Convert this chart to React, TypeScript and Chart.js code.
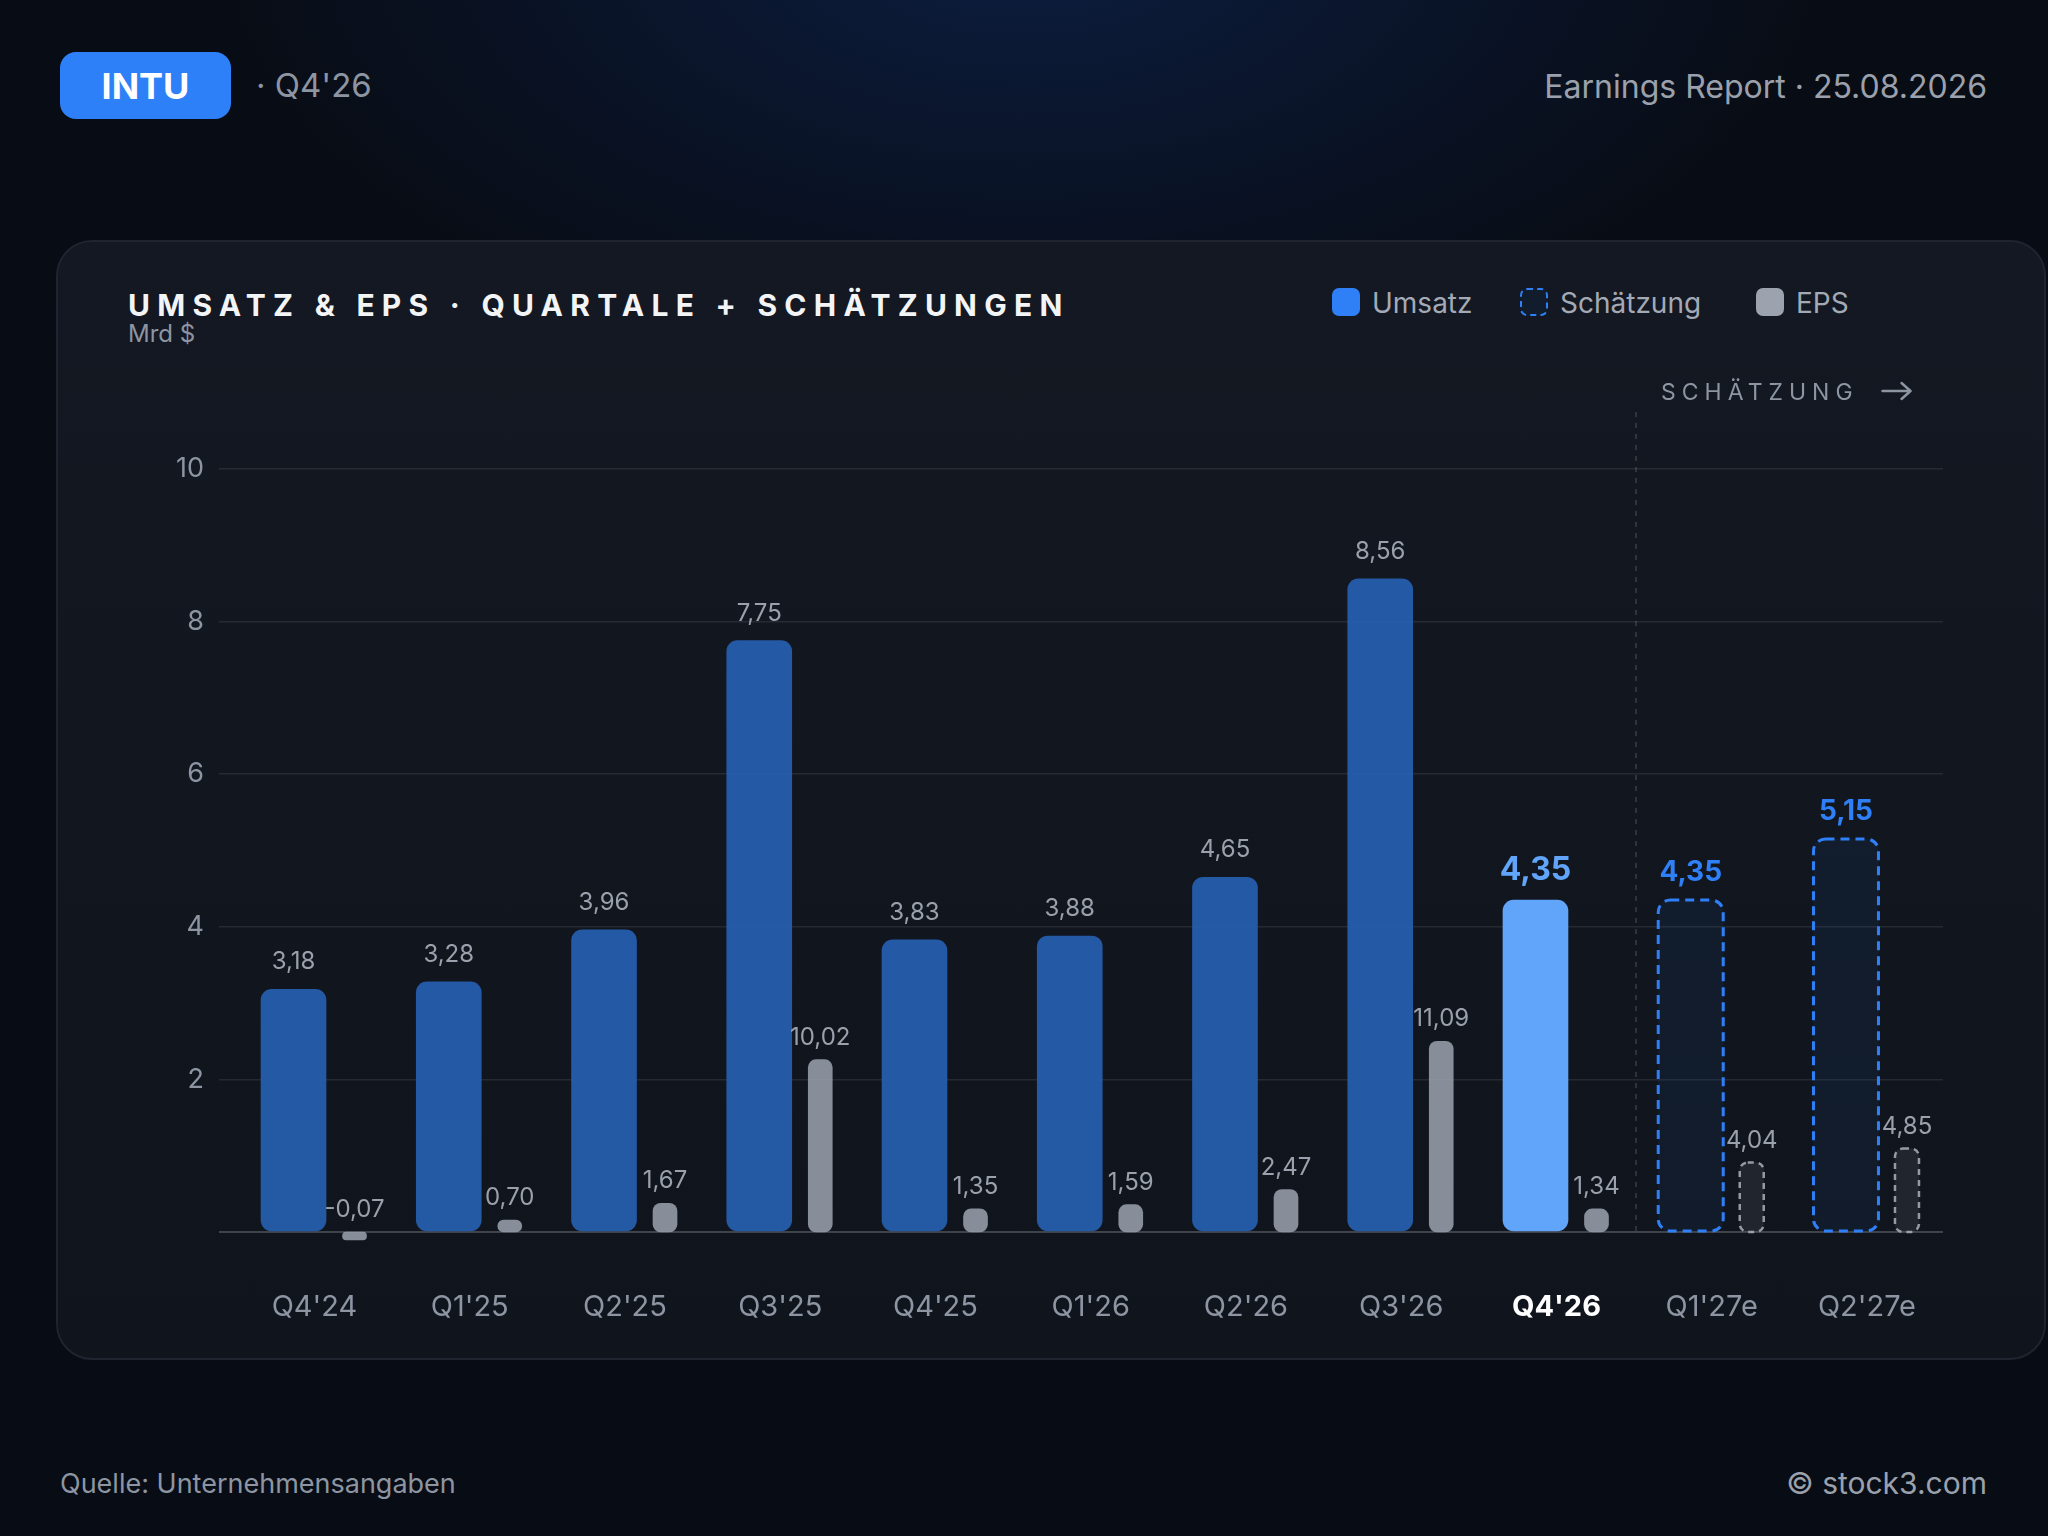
import React, { useEffect, useRef } from 'react';
import { Chart, registerables } from 'chart.js';

Chart.register(...registerables);

// ---------- data ----------
const quarters = ["Q4'24", "Q1'25", "Q2'25", "Q3'25", "Q4'25", "Q1'26", "Q2'26", "Q3'26", "Q4'26", "Q1'27e", "Q2'27e"];
const revenue = [3.18, 3.28, 3.96, 7.75, 3.83, 3.88, 4.65, 8.56, 4.35, 4.35, 5.15];
const eps = [-0.07, 0.70, 1.67, 10.02, 1.35, 1.59, 2.47, 11.09, 1.34, 4.04, 4.85];
const isEstimate = [false, false, false, false, false, false, false, false, false, true, true];
const currentIndex = 8;
const revenueAxis = { min: 0, max: 10, step: 2 };

// ---------- style ----------
const FONT = 'Inter, "Noto Sans", "DejaVu Sans", sans-serif';
const BLUE = '#2f80f7';
const GRAY_TEXT = '#8d95a2';
const LABEL_GRAY = '#9aa1ac';
const REV_SHIFT = -0.135; // category units
const EPS_SHIFT = 0.258;

const fmt = (v: number) => v.toFixed(2).replace('.', ',');

const overlayPlugin = {
  id: 'overlay',
  beforeDatasetsDraw(chart: any) {
    const { ctx, chartArea, scales } = chart;
    const x = scales.x;
    const first = isEstimate.indexOf(true);
    const px = x.getPixelForValue(first - 0.5) + 2;
    ctx.save();
    ctx.strokeStyle = 'rgba(255,255,255,0.13)';
    ctx.lineWidth = 2;
    ctx.setLineDash([5, 6]);
    ctx.beginPath();
    ctx.moveTo(px, chartArea.top - 57);
    ctx.lineTo(px, chartArea.bottom);
    ctx.stroke();
    ctx.setLineDash([]);
    // SCHÄTZUNG label
    ctx.font = `400 23px ${FONT}`;
    ctx.fillStyle = GRAY_TEXT;
    ctx.textAlign = 'left';
    ctx.textBaseline = 'alphabetic';
    (ctx as any).letterSpacing = '6px';
    const tx = px + 25;
    const ty = chartArea.top - 69;
    ctx.fillText('SCHÄTZUNG', tx, ty);
    const w = ctx.measureText('SCHÄTZUNG').width;
    (ctx as any).letterSpacing = '0px';
    const ax = tx + w + 24;
    const ay = ty - 9;
    ctx.strokeStyle = GRAY_TEXT;
    ctx.lineWidth = 2.5;
    ctx.lineCap = 'round';
    ctx.lineJoin = 'round';
    ctx.beginPath();
    ctx.moveTo(ax, ay);
    ctx.lineTo(ax + 28, ay);
    ctx.moveTo(ax + 19, ay - 8);
    ctx.lineTo(ax + 28, ay);
    ctx.lineTo(ax + 19, ay + 8);
    ctx.stroke();
    ctx.restore();
  },
  afterDatasetsDraw(chart: any) {
    const { ctx } = chart;
    ctx.save();
    // dashed outlines for estimates
    [0, 1].forEach((di) => {
      const meta = chart.getDatasetMeta(di);
      meta.data.forEach((el: any, i: number) => {
        if (!isEstimate[i]) return;
        const { x, y, base, width } = el.getProps(['x', 'y', 'base', 'width'], true);
        const top = Math.min(y, base);
        const h = Math.abs(base - y);
        ctx.beginPath();
        if (di === 0) {
          ctx.setLineDash([9, 6]);
          ctx.lineWidth = 3;
          ctx.strokeStyle = BLUE;
          (ctx as any).roundRect(x - width / 2, top, width, h, 12);
        } else {
          ctx.setLineDash([6, 5]);
          ctx.lineWidth = 2.5;
          ctx.strokeStyle = 'rgba(170,176,186,0.85)';
          (ctx as any).roundRect(x - width / 2, top, width, h, 8);
        }
        ctx.stroke();
      });
    });
    ctx.setLineDash([]);
    // value labels
    ctx.textAlign = 'center';
    ctx.textBaseline = 'alphabetic';
    [0, 1].forEach((di) => {
      const meta = chart.getDatasetMeta(di);
      const values = di === 0 ? revenue : eps;
      meta.data.forEach((el: any, i: number) => {
        const { x, y, base } = el.getProps(['x', 'y', 'base'], true);
        const top = Math.min(y, base);
        let font = `400 24px ${FONT}`;
        let color = LABEL_GRAY;
        let gap = di === 0 ? 20 : 15;
        if (di === 0 && i === currentIndex) {
          font = `700 32px ${FONT}`;
          color = '#60a5fa';
          gap = 20;
        } else if (di === 0 && isEstimate[i]) {
          font = `700 28px ${FONT}`;
          color = BLUE;
          gap = 19;
        }
        ctx.font = font;
        ctx.fillStyle = color;
        ctx.fillText(fmt(values[i]), x, top - gap);
      });
    });
    ctx.restore();
  },
};

function RevenueChart() {
  const ref = useRef<HTMLCanvasElement | null>(null);
  useEffect(() => {
    if (!ref.current) return;
    const epsMax = Math.max(...eps) * 4;
    const chart = new Chart(ref.current, {
      type: 'bar',
      data: {
        datasets: [
          {
            label: 'Umsatz',
            data: revenue.map((v, i) => ({ x: i + REV_SHIFT, y: v })),
            yAxisID: 'y',
            grouped: false,
            barThickness: 65,
            borderRadius: 11,
            borderSkipped: false,
            borderWidth: 0,
            backgroundColor: revenue.map((_, i) =>
              isEstimate[i] ? 'rgba(47,128,247,0.07)' : i === currentIndex ? '#60a5fa' : 'rgba(39,96,180,0.9)'
            ),
          } as any,
          {
            label: 'EPS',
            data: eps.map((v, i) => ({ x: i + EPS_SHIFT, y: v })),
            yAxisID: 'y2',
            grouped: false,
            barThickness: 24,
            borderRadius: 8,
            borderSkipped: false,
            borderWidth: 0,
            minBarLength: 8,
            clip: false,
            backgroundColor: eps.map((_, i) => (isEstimate[i] ? 'rgba(156,163,175,0.12)' : 'rgba(156,163,175,0.85)')),
          } as any,
        ],
      },
      options: {
        animation: false,
        responsive: true,
        maintainAspectRatio: false,
        layout: { padding: { left: 60, right: 103, top: 229, bottom: 28 } },
        plugins: { legend: { display: false }, tooltip: { enabled: false } },
        scales: {
          x: {
            type: 'linear',
            offset: false,
            min: -0.615,
            max: 10.49,
            grid: { display: false, offset: false },
            border: { display: false },
            afterBuildTicks: (scale: any) => {
              scale.ticks = quarters.map((_, i) => ({ value: i }));
            },
            afterFit: (scale: any) => {
              scale.height = 100;
            },
            ticks: {
              autoSkip: false,
              maxRotation: 0,
              padding: 49.5,
              callback: (v: any) => quarters[v as number] ?? '',
              color: (c: any) => (c.tick && c.tick.value === currentIndex ? '#ffffff' : GRAY_TEXT),
              font: (c: any) =>
                c.tick && c.tick.value === currentIndex
                  ? { family: FONT, size: 29, weight: 'bold' }
                  : { family: FONT, size: 29, weight: 'normal' },
            },
          } as any,
          y: {
            min: revenueAxis.min,
            max: revenueAxis.max,
            position: 'left',
            border: { display: false },
            afterFit: (scale: any) => {
              scale.width = 103;
            },
            grid: {
              drawTicks: false,
              color: (c: any) => (c.tick && c.tick.value === 0 ? 'rgba(255,255,255,0.2)' : 'rgba(255,255,255,0.085)'),
              lineWidth: (c: any) => (c.tick && c.tick.value === 0 ? 2 : 1.5),
            },
            ticks: {
              stepSize: revenueAxis.step,
              padding: 15,
              color: GRAY_TEXT,
              font: { family: FONT, size: 27 },
              callback: (v: any) => (v === 0 ? '' : String(v)),
            },
          } as any,
          y2: {
            display: false,
            min: 0,
            max: epsMax,
          },
        },
      },
      plugins: [overlayPlugin],
    });
    return () => chart.destroy();
  }, []);
  return <canvas ref={ref} />;
}

const abs = (s: React.CSSProperties): React.CSSProperties => ({ position: 'absolute', ...s });

export default function App() {
  useEffect(() => {
    document.body.style.margin = '0';
    document.body.style.background = '#080c14';
    document.documentElement.style.background = '#080c14';
  }, []);

  const legendText: React.CSSProperties = {
    position: 'absolute',
    top: 48.5,
    fontSize: 28,
    lineHeight: '28px',
    height: 28,
    color: '#a3aab5',
    whiteSpace: 'nowrap',
  };
  const swatch: React.CSSProperties = { position: 'absolute', top: 48, width: 28, height: 28, borderRadius: 7, boxSizing: 'border-box' };

  return (
    <div
      style={{
        position: 'relative',
        width: 2048,
        height: 1536,
        overflow: 'hidden',
        fontFamily: FONT,
        background: 'radial-gradient(ellipse 1150px 620px at 50% -4%, rgba(20,60,140,0.36), rgba(20,60,140,0) 72%), #080c14',
      }}
    >
      {/* header */}
      <div
        style={abs({
          left: 60,
          top: 52,
          width: 171,
          height: 67,
          borderRadius: 16,
          background: '#2e80f8',
          color: '#ffffff',
          fontWeight: 700,
          fontSize: 36,
          lineHeight: 1,
          display: 'flex',
          alignItems: 'center',
          justifyContent: 'center',
        })}
      >
        INTU
      </div>
      <div style={abs({ left: 256, top: 69, fontSize: 33, lineHeight: '33px', color: GRAY_TEXT, whiteSpace: 'nowrap' })}>· Q4'26</div>
      <div style={abs({ right: 61, top: 70.5, fontSize: 32, lineHeight: '32px', color: '#9aa1ac', whiteSpace: 'nowrap' })}>
        Earnings Report · 25.08.2026
      </div>

      {/* card background */}
      <div
        style={abs({
          left: 56,
          top: 240,
          width: 1990,
          height: 1120,
          boxSizing: 'border-box',
          borderRadius: 36,
          border: '2px solid #1e2530',
          background: 'linear-gradient(180deg, #131822 0%, #10141c 100%)',
        })}
      />
      {/* card content */}
      <div style={abs({ left: 56, top: 240, width: 1990, height: 1120 })}>
        <div
          style={abs({
            left: 72,
            top: 49.5,
            fontSize: 30,
            lineHeight: '30px',
            fontWeight: 700,
            letterSpacing: 7.25,
            color: '#f3f4f6',
            whiteSpace: 'nowrap',
          })}
        >
          UMSATZ &amp; EPS · QUARTALE + SCHÄTZUNGEN
        </div>
        <div style={abs({ left: 72, top: 82, fontSize: 24, lineHeight: '24px', color: GRAY_TEXT, whiteSpace: 'nowrap' })}>Mrd $</div>

        {/* legend */}
        <div style={{ ...swatch, left: 1276, background: BLUE }} />
        <div style={{ ...legendText, left: 1316 }}>Umsatz</div>
        <div style={{ ...swatch, left: 1464, background: '#111c2d', border: `2.5px dashed ${BLUE}` }} />
        <div style={{ ...legendText, left: 1504 }}>Schätzung</div>
        <div style={{ ...swatch, left: 1700, background: '#9ca3af' }} />
        <div style={{ ...legendText, left: 1740 }}>EPS</div>

        <div style={abs({ left: 0, top: 0, width: 1990, height: 1120 })}>
          <RevenueChart />
        </div>
      </div>

      {/* footer */}
      <div style={abs({ left: 60, top: 1469.5, fontSize: 27, lineHeight: '27px', color: GRAY_TEXT, whiteSpace: 'nowrap' })}>
        Quelle: Unternehmensangaben
      </div>
      <div style={abs({ right: 61, top: 1468, fontSize: 30, lineHeight: '30px', color: '#9aa1ac', whiteSpace: 'nowrap' })}>
        © stock3.com
      </div>
    </div>
  );
}
